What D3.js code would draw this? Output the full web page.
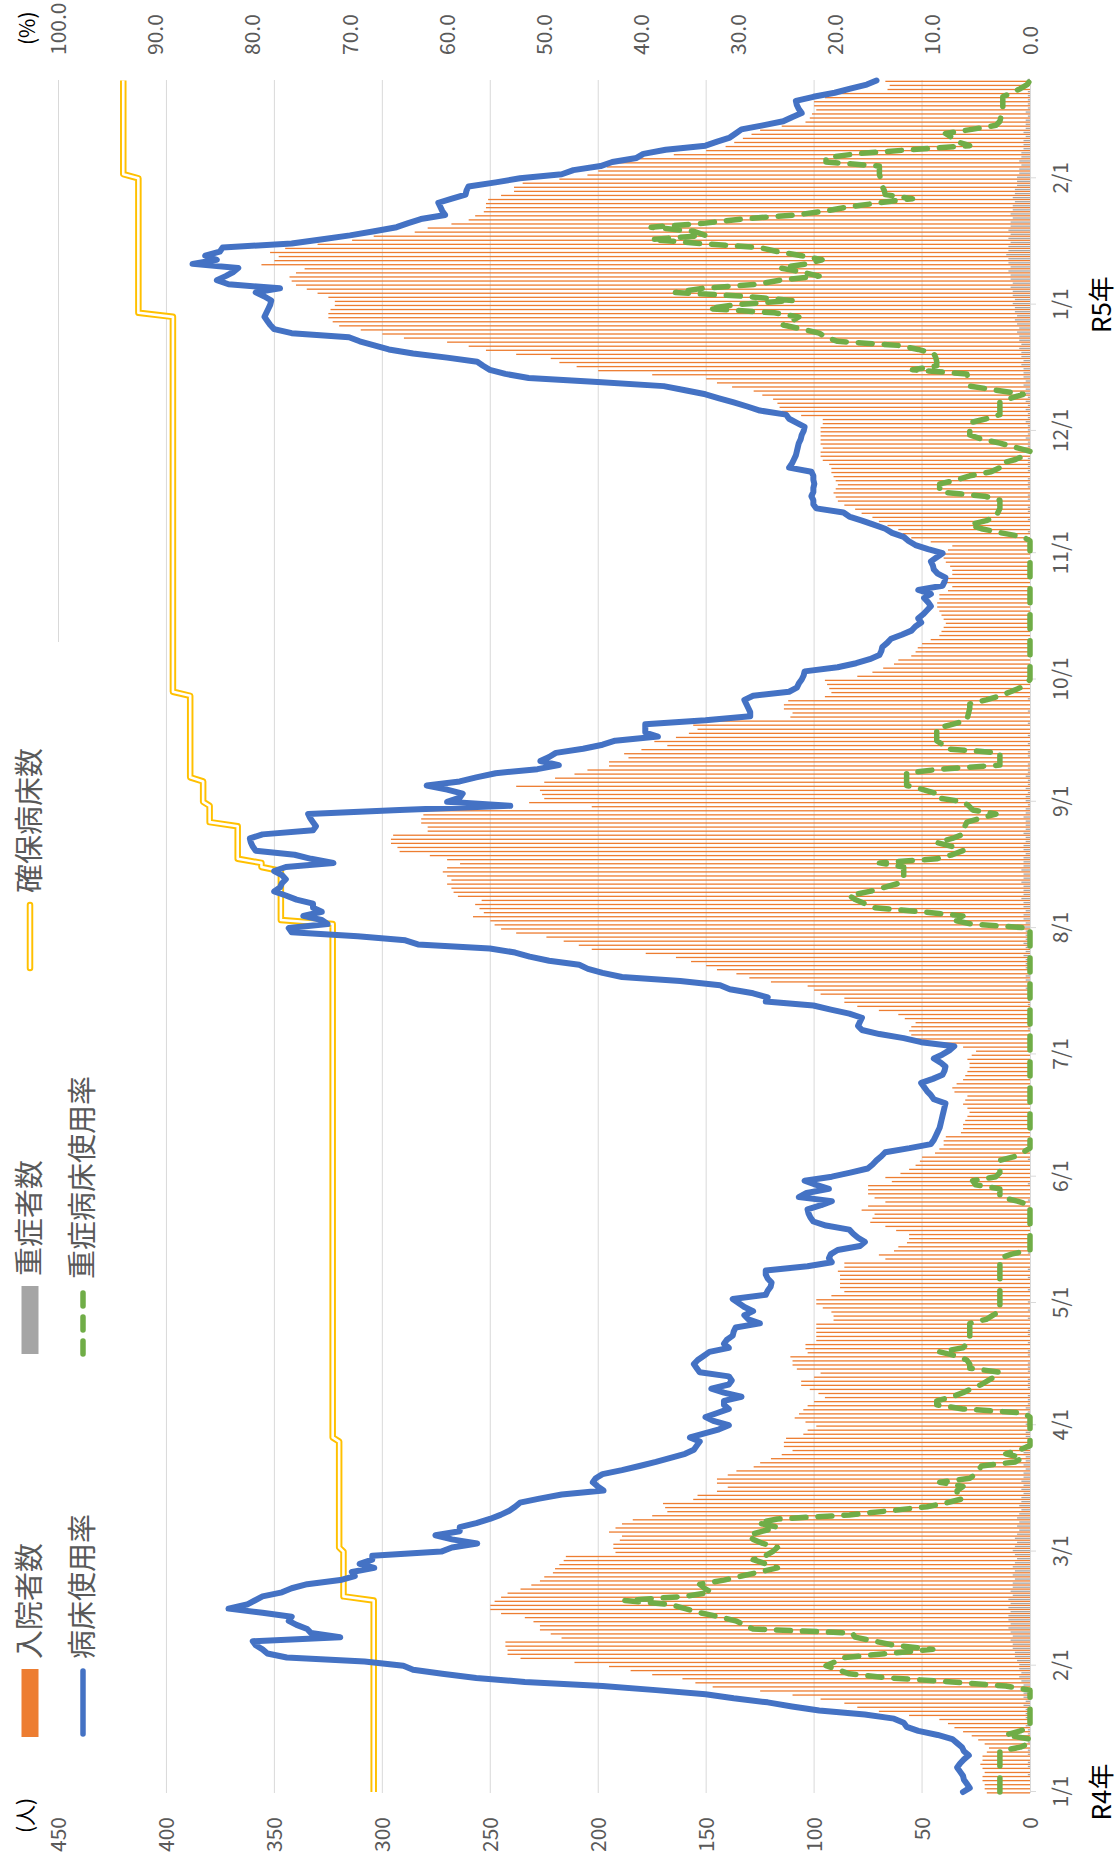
<!DOCTYPE html>
<html>
<head>
<meta charset="utf-8">
<script src="https://cdn.jsdelivr.net/npm/d3@7"></script>
<style>
	body { margin: 0; background: #fff; }
	svg { display: block; font-family: "Noto Sans CJK JP", "Noto Sans", sans-serif; }
</style>
</head>
<body>
<script>
// daily values, 2022-01-01 .. 2023-02-25
var startDate = new Date(2022, 0, 1);
var endDate = new Date(2023, 1, 25);

// 入院者数 (人)
var inpatients = [
	20,21,21,22,22,21,22,23,22,22, 20,19,21,24,27,31,35,38,42,56,
	70,80,86,97,110,125,147,155,161,175, 185,195,211,236,242,242,243,243,217,222,
	227,227,230,234,245,250,250,248,245,242, 236,231,227,225,221,220,218,216,215,192,
	193,193,190,189,195,192,189,184,175,168, 169,170,156,154,145,140,145,145,140,136,
	128,125,120,115,110,114,114,113,105,103, 99,104,109,107,105,103,100,95,98,102,
	106,106,100,97,108,110,110,111,103,104, 104,99,99,99,99,99,91,91,92,96,
	99,99,92,86,88,88,88,88,89,86, 86,67,70,63,61,57,56,56,62,67,
	74,73,72,78,75,67,72,75,75,75, 64,67,60,56,53,51,50,44,42,40,
	40,39,32,31,31,30,29,28,29,31, 30,29,35,36,34,31,30,29,28,28,
	29,27,25,31,40,53,55,56,55,53, 58,61,70,80,86,86,97,100,103,120,
	130,136,145,150,157,164,178,203,209,216, 224,238,245,248,250,258,253,255,257,254,
	265,267,268,270,268,270,272,270,264,270, 278,292,293,296,296,295,279,279,282,282,
	281,282,203,232,225,226,227,238,225,220, 211,205,195,195,186,188,180,168,174,164,
	158,154,156,150,111,110,114,114,112,95, 92,93,94,95,80,73,68,63,61,55,
	53,52,50,46,42,41,40,39,40,41, 42,43,43,42,42,38,36,39,38,36,
	36,37,39,40,40,38,36,46,55,59, 61,66,70,73,78,81,86,89,90,91,
	90,89,90,91,92,92,93,96,97,97, 96,97,97,97,97,97,96,96,106,115,
	116,117,119,124,128,138,145,150,175,200, 210,218,222,238,252,260,270,290,300,310,
	320,323,325,325,324,322,322,325,330,335, 340,342,343,340,336,356,350,348,352,345,
	330,314,304,285,279,268,260,257,253,252, 252,251,245,239,239,235,218,205,200,196,
	190,181,165,150,141,137,133,129,125,115, 104,102,101,99,100,100,95,89,66,65,67
];

// 重症者数 (人)
var severe = [
	0,0,0,0,1,0,1,1,0,1,1,0,1,1,1, 1,2,1,2,2,2,3,2,3,3,4,3,4,5,4,
	5,5,6,7,7,8,8,9,8,9,10,9,10,10,9, 10,9,10,8,9,8,8,7,8,7,8,7,6,7,8,
	7,6,7,6,5,6,5,6,5,4,5,4,4,3,4, 3,4,3,3,2,3,2,2,3,2,2,1,2,2,1,
	2,1,1,1,2,1,1,1,0,1,1,1,0,1,1, 1,0,1,1,0,1,0,1,1,0,0,1,0,1,0,
	1,0,0,1,0,0,1,0,1,0,0,0,1,0,0, 0,1,0,0,0,1,0,0,0,0,1,0,0,0,1,
	0,0,0,0,0,1,0,0,0,0,0,0,0,0,0, 0,0,0,0,0,0,0,0,0,0,0,0,0,0,0,
	0,0,0,0,0,0,0,1,0,0,1,0,1,1,1, 1,1,2,1,2,2,1,2,2,2,3,2,2,3,2,
	2,2,3,2,3,3,2,3,3,4,3,3,3,4,3, 3,4,3,3,3,2,3,3,2,2,3,2,2,2,3,
	2,2,1,2,2,1,2,1,1,2,1,
	1,1,0,1,1,0,1,0,1,0,0,1,0,0,1, 0,0,1,0,0,0,0,1,0,0,0,0,0,0,0,
	0,0,0,0,0,0,0,0,0,0,0,0,0,0,0, 0,0,0,0,0,0,0,0,0,0,0,0,0,1,0,
	0,1,0,1,1,0,1,1,0,1,1,1,0,1,1, 1,1,0,1,1,1,2,1,1,1,2,1,1,2,
	1,2,1,2,2,3,2,3,3,3,4,3,4,4,5, 4,5,5,6,5,6,7,6,7,7,8,7,8,8,9,
	8,9,9,10,9,10,10,11,10,10,9,10,9,10,9, 9,8,9,8,8,7,8,7,7,6,6,6,5,5,4,
	5,4,4,3,3,3,2,3,2,2,2,1,2,1,1,1,1,1,0,1,1
];

// 病床使用率 (%)
var bedRate = [
	6.9,6.2,6.5,6.8,6.9,7.2,7.5,7.2,6.8,6.3, 6.8,7.0,7.5,8.0,9.5,11.5,12.7,13.0,14.0,17.0,
	21.7,24.5,27.0,30.5,33.4,38.5,44.0,52.0,57.0,60.5, 63.5,64.5,68.5,76.5,78.5,79.0,79.7,80.0,71.0,74.0,
	74.4,75.5,76.3,76.0,79.0,82.5,80.6,79.8,79.0,77.0, 76.0,74.4,71.0,69.5,69.8,67.5,69.0,67.7,67.7,60.6,
	59.5,56.9,59.5,61.2,58.7,58.7,57.0,55.6,54.5,53.6, 53.0,52.5,50.5,48.2,43.9,44.5,45.0,44.7,44.0,42.0,
	40.2,38.5,37.0,35.5,34.6,34.3,34.0,35.0,33.5,32.0, 31.0,32.5,33.4,32.2,31.0,31.5,31.5,29.7,31.5,32.8,
	31.0,30.7,31.0,34.0,34.3,34.6,34.2,33.6,33.0,31.0, 31.5,31.2,30.6,30.5,30.3,27.8,29.0,29.4,28.5,29.4,
	30.0,30.6,27.2,27.0,26.7,26.6,27.0,27.2,27.2,22.9, 20.4,20.7,20.5,19.8,17.5,17.0,17.7,18.2,18.6,21.0,
	22.3,22.6,22.8,22.9,21.5,20.4,23.8,23.0,20.7,22.0, 23.2,20.4,18.5,16.7,16.2,15.8,15.3,14.9,12.4,10.2,
	9.9,9.7,9.5,9.3,9.2,9.1,9.0,8.9,8.8,8.7, 9.9,10.2,10.6,10.9,11.2,10.0,9.0,8.8,8.7,9.2,
	9.9,9.0,8.3,7.8,11.2,13.0,15.5,17.3,17.7,17.5, 17.3,18.6,20.5,22.3,27.2,27.0,28.5,30.9,31.9,36.0,
	42.0,44.0,45.5,46.4,49.5,51.5,53.0,55.6,63.0,64.3, 69.2,76.0,76.3,72.3,72.9,74.8,72.9,73.8,73.8,75.5,
	76.6,77.8,77.2,77.0,76.6,77.0,77.8,76.6,71.7,74.0, 75.7,79.7,80.0,80.2,80.3,79.0,73.8,73.5,73.8,74.1,
	74.3,64.9,53.5,60.0,58.7,58.4,60.0,62.1,58.7,57.0, 55.0,50.7,48.5,50.4,49.5,48.8,46.0,44.0,42.7,38.3,
	39.6,39.6,39.6,33.4,28.8,28.8,29.0,29.2,29.4,28.5, 24.8,24.0,23.8,23.5,23.3,23.2,19.8,17.9,16.5,15.5,
	15.3,15.2,14.7,14.3,13.2,12.2,11.8,11.2,11.5,11.0, 10.6,10.2,10.5,10.9,10.2,11.5,9.0,8.8,8.7,9.5,
	9.9,10.0,10.2,9.6,9.0,10.5,11.8,12.5,13.0,14.2, 14.9,16.1,17.3,18.6,19.2,22.0,22.3,22.3,22.5,22.3,
	22.3,22.2,22.3,22.3,22.5,24.8,24.5,24.3,24.1,24.0, 23.9,23.8,23.6,23.5,23.3,23.2,24.0,24.8,25.1,27.8,
	29.1,30.5,32.0,33.4,35.5,37.7,44.5,51.6,54.0,55.6, 56.3,56.9,60.0,63.5,66.0,67.5,69.0,70.1,76.0,77.8,
	78.2,78.5,78.8,78.6,78.4,78.2,78.1,78.8,79.7,77.2, 82.5,83.7,82.8,82.0,81.5,86.2,83.7,84.9,83.4,83.1,
	76.0,73.0,70.0,67.5,65.2,64.0,62.7,60.2,60.5,60.7, 60.9,59.5,58.1,58.0,57.8,55.0,52.5,48.2,47.0,44.2,
	43.0,40.5,39.8,37.5,33.4,32.2,30.9,30.3,29.7,27.5, 25.4,24.5,23.5,23.8,24.0,24.1,22.3,20.1,18.5,16.8,15.8
];

// 重症病床使用率 (%)
var severeRate = [
	3.1,3.1,3.1,3.1,3.1,3.1,3.1,3.1,3.1,3.1, 3.1,1.0,0,0,2.5,1.0,0,0,0,0,
	0,0,0,0,0,0,2.5,8.0,14.5,18.6, 19.8,21.0,20.0,19.2,14.5,10.0,14.0,16.0,18.0,18.3,
	28.5,29.4,30.3,32.0,34.0,35.5,37.0,41.7,35.6,32.8, 33.5,34.0,31.5,29.7,27.8,26.0,27.2,28.5,27.2,26.5,
	26.0,27.5,28.5,29.0,27.5,26.0,28.0,26.0,18.6,14.5, 10.6,8.5,6.9,7.5,7.5,6.9,9.3,6.2,5.6,5.3,
	5.0,1.5,0.8,2.5,1.0,0,0,0,0,0, 0,0,0,0.7,6.9,9.6,9.6,8.0,6.9,6.0,
	5.0,4.3,3.6,3.1,6.2,6.2,6.5,7.5,9.3,6.9, 6.5,6.2,6.2,6.2,6.2,6.2,4.5,3.8,3.1,3.1,
	3.1,3.1,3.1,3.1,3.1,3.1,3.1,3.1,3.1,3.1, 3.1,3.1,1.9,0,0,0,0,0,0,0,
	0,0,0,0,0,1.3,3.1,3.1,3.1,5.6, 5.9,3.5,3.1,3.1,3.1,3.1,1.5,0.7,0,0,
	0,0,0,0,0,0,0,0,0,0, 0,0,0,0,0,0,0,0,0,0,
	0,0,0,0,0,0,0,0,0,0, 0,0,0,0,0,0,0,0,0,0,
	0,0,0,0,0,0,0,0,0,0, 0,0,0,6.0,8.0,6.9,11.2,16.1,17.0,18.0,
	18.6,16.5,15.0,13.5,13.0,13.0,13.0,13.0,15.5,9.6, 8.0,6.9,8.0,9.6,8.0,6.9,6.8,6.7,6.5,5.0,
	3.5,5.9,6.3,6.9,9.6,9.6,11.0,12.7,12.7,12.7, 12.7,9.3,3.1,3.1,3.1,3.1,8.7,9.0,9.6,9.6,
	9.6,9.6,8.0,6.5,6.4,6.3,6.2,6.2,4.5,3.1, 2.0,1.0,0.4,0,0,0,0,0,0,0,
	0,0,0,0,0,0,0,0,0,0, 0,0,0,0,0,0,0,0,0,0,
	0,0,0,0,0,0,0,0,0.7,3.0, 5.0,6.2,4.5,3.5,3.3,3.1,3.1,3.1,4.7,9.3,
	9.3,9.3,7.5,6.2,4.0,3.1,3.1,1.5,0.5,0, 1.5,3.1,5.0,6.2,6.2,6.2,6.2,4.5,3.1,3.1,
	3.1,3.1,2.0,0.7,3.5,6.2,6.3,6.4,6.5,12.1, 9.6,9.6,9.7,9.9,11.5,13.6,19.8,21.0,21.7,23.5,
	25.4,24.5,23.8,26.3,33.1,30.3,24.4,29.1,36.5,33.7, 28.0,25.7,21.7,23.5,25.7,23.0,21.4,23.5,26.0,27.8,
	34.0,39.0,33.4,34.6,39.0,33.4,29.7,24.1,21.0,18.6, 15.5,12.1,14.9,15.0,15.2,15.3,15.4,15.5,15.5,15.5,
	21.0,21.0,18.0,12.4,6.2,7.5,8.0,8.7,6.0,3.5, 3.1,3.0,2.8,2.8,2.8,2.8,2.8,1.9,1.0,0.3,0
];

// 確保病床数 (人): date from which each count applies
var bedFrom = ["2022-01-01","2022-02-18","2022-03-02","2022-03-29","2022-08-03","2022-08-16",
	"2022-08-18","2022-08-27","2022-09-01","2022-09-07","2022-09-28","2022-12-30","2023-02-02"];
var bedCount = [304, 318, 320, 323, 347, 356, 367, 380, 383, 389, 397, 413, 420];

var personTicks = [0, 50, 100, 150, 200, 250, 300, 350, 400, 450];
var pctTicks = [0, 10, 20, 30, 40, 50, 60, 70, 80, 90, 100];
var yearLabels = [{ text: "R4年", date: "2022-01-01" }, { text: "R5年", date: "2023-01-01" }];

var legendItems = [
	{ name: "入院者数", type: "bar", color: "#ED7D31", x: 126, y: 30 },
	{ name: "重症者数", type: "bar", color: "#A5A5A5", x: 509, y: 30 },
	{ name: "確保病床数", type: "double", color: "#FFC000", x: 892, y: 30 },
	{ name: "病床使用率", type: "line", color: "#4472C4", x: 126, y: 83 },
	{ name: "重症病床使用率", type: "dash", color: "#70AD47", x: 506, y: 83 }
];

// chart is laid out landscape, then turned a quarter to fit the tall page
var W = 1863, H = 1117;
var plotL = 70, plotR = 1783, plotT = 58.5, plotB = 1030;
var parse = d3.timeParse("%Y-%m-%d");
var dates = d3.timeDay.range(startDate, d3.timeDay.offset(endDate, 1));
var textColor = "#595959", gridColor = "#D9D9D9";
var dash = "14,12";

var x = d3.scaleTime().domain([startDate, endDate]).range([71, 1782.5]);
var yL = d3.scaleLinear().domain([0, 450]).range([plotB, plotT]);
var yR = d3.scaleLinear().domain([0, 100]).range([plotB, plotT]);

var svg = d3.select("body").append("svg")
	.attr("width", H)
	.attr("height", W);
var g = svg.append("g")
	.attr("transform", "translate(0," + W + ") rotate(-90)");

// gridlines
g.append("g").selectAll("line")
	.data(personTicks.slice(1))
	.enter().append("line")
	.attr("x1", plotL).attr("x2", plotR)
	.attr("y1", function (d) { return yL(d); })
	.attr("y2", function (d) { return yL(d); })
	.attr("stroke", gridColor)
	.attr("stroke-width", 1);

// bars
var barW = 1.3;
g.append("g").selectAll("rect")
	.data(dates)
	.enter().append("rect")
	.attr("x", function (d) { return x(d) - barW - 0.2; })
	.attr("width", barW)
	.attr("y", function (d, i) { return yL(inpatients[i]); })
	.attr("height", function (d, i) { return plotB - yL(inpatients[i]); })
	.attr("fill", "#ED7D31");

g.append("g").selectAll("rect")
	.data(dates)
	.enter().append("rect")
	.attr("x", function (d) { return x(d) + 0.4; })
	.attr("width", 1.3)
	.attr("y", function (d, i) { return yL(severe[i]); })
	.attr("height", function (d, i) { return plotB - yL(severe[i]); })
	.attr("fill", "#A5A5A5");

// date axis
var xAxis = d3.axisBottom(x)
	.tickValues(d3.timeMonth.range(startDate, endDate))
	.tickFormat(d3.timeFormat("%-m/%-d"))
	.tickSize(6)
	.tickPadding(17);
var xg = g.append("g")
	.attr("transform", "translate(0," + plotB + ")")
	.call(xAxis);
xg.select(".domain").attr("stroke", gridColor).attr("d", "M" + plotL + ",0.5H" + plotR);
xg.selectAll(".tick line").attr("stroke", gridColor);
xg.selectAll(".tick text")
	.attr("fill", textColor)
	.style("font-size", "21px")
	.style("font-family", "'Noto Sans CJK JP', sans-serif");

g.append("g").selectAll("text")
	.data(yearLabels)
	.enter().append("text")
	.attr("x", function (d) { return x(parse(d.date)); })
	.attr("y", 1111)
	.attr("text-anchor", "middle")
	.attr("fill", "#000")
	.style("font-size", "26px")
	.text(function (d) { return d.text; });

// value axes
g.append("g").selectAll("text")
	.data(personTicks)
	.enter().append("text")
	.attr("x", 46)
	.attr("y", function (d) { return yL(d); })
	.attr("dy", "0.36em")
	.attr("text-anchor", "end")
	.attr("fill", textColor)
	.style("font-size", "21px")
	.text(function (d) { return d; });

g.append("g").selectAll("text")
	.data(pctTicks)
	.enter().append("text")
	.attr("x", 1808)
	.attr("y", function (d) { return yR(d); })
	.attr("dy", "0.36em")
	.attr("fill", textColor)
	.style("font-size", "21px")
	.text(function (d) { return d3.format(".1f")(d); });

g.append("text").attr("x", 30).attr("y", 33).attr("fill", "#000")
	.style("font-size", "21px").text("(人)");
g.append("text").attr("x", 1818).attr("y", 35).attr("fill", "#000")
	.style("font-size", "21px").text("(%)");

// 確保病床数 as a step line
var bedPts = [];
bedFrom.forEach(function (s, i) {
	var from = parse(s);
	var to = i < bedFrom.length - 1 ? d3.timeDay.offset(parse(bedFrom[i + 1]), -1) : endDate;
	bedPts.push([from, bedCount[i]]);
	bedPts.push([to, bedCount[i]]);
});
var bedLine = d3.line()
	.x(function (d) { return x(d[0]); })
	.y(function (d) { return yL(d[1]); });
g.append("path").datum(bedPts)
	.attr("d", bedLine)
	.attr("fill", "none")
	.attr("stroke", "#FFC000")
	.attr("stroke-width", 6.5)
	.attr("stroke-linejoin", "round");
g.append("path").datum(bedPts)
	.attr("d", bedLine)
	.attr("fill", "none")
	.attr("stroke", "#fff")
	.attr("stroke-width", 2.6)
	.attr("stroke-linejoin", "round");

var rateLine = d3.line()
	.x(function (d, i) { return x(dates[i]); })
	.y(function (d) { return yR(d); });

g.append("path").datum(bedRate)
	.attr("d", rateLine)
	.attr("fill", "none")
	.attr("stroke", "#4472C4")
	.attr("stroke-width", 6)
	.attr("stroke-linejoin", "round")
	.attr("stroke-linecap", "round");

g.append("path").datum(severeRate)
	.attr("d", rateLine)
	.attr("fill", "none")
	.attr("stroke", "#70AD47")
	.attr("stroke-width", 5.5)
	.attr("stroke-dasharray", dash)
	.attr("stroke-linejoin", "round")
	.attr("stroke-linecap", "round");

// legend
var lg = g.append("g");
lg.append("rect")
	.attr("x", 62).attr("y", 40).attr("width", 1159).attr("height", 60)
	.attr("fill", "#fff");
var item = lg.selectAll("g.item")
	.data(legendItems)
	.enter().append("g")
	.attr("class", "item")
	.attr("transform", function (d) { return "translate(" + d.x + "," + d.y + ")"; });
item.filter(function (d) { return d.type === "bar"; })
	.append("rect")
	.attr("x", 0).attr("y", -8.5).attr("width", 68).attr("height", 17)
	.attr("fill", function (d) { return d.color; });
item.filter(function (d) { return d.type === "line" || d.type === "dash" || d.type === "double"; })
	.append("line")
	.attr("x1", 3).attr("x2", 66)
	.attr("stroke", function (d) { return d.color; })
	.attr("stroke-width", function (d) { return d.type === "double" ? 6.5 : 5.5; })
	.attr("stroke-linecap", "round")
	.attr("stroke-dasharray", function (d) { return d.type === "dash" ? "13,11" : null; });
item.filter(function (d) { return d.type === "double"; })
	.append("line")
	.attr("x1", 3).attr("x2", 66)
	.attr("stroke", "#fff")
	.attr("stroke-width", 2.6)
	.attr("stroke-linecap", "round");
item.append("text")
	.attr("x", 78)
	.attr("y", 10)
	.attr("fill", textColor)
	.style("font-size", "29px")
	.text(function (d) { return d.name; });
</script>
</body>
</html>
